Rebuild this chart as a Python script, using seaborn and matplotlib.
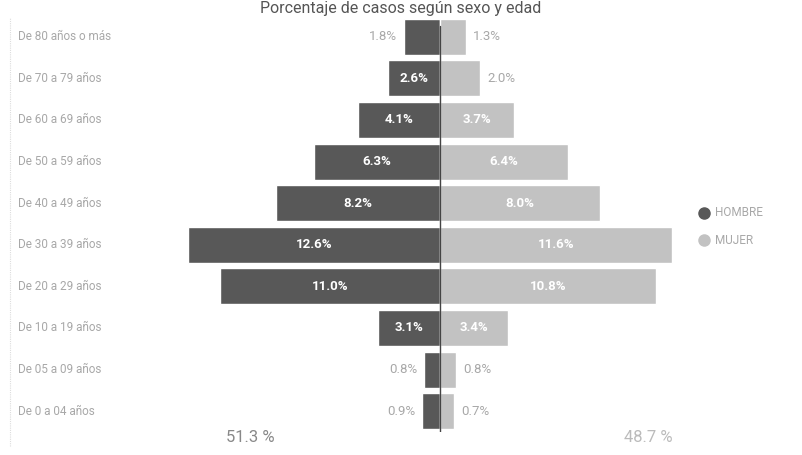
import matplotlib
matplotlib.use("Agg")
import matplotlib.pyplot as plt
import matplotlib.transforms as mtransforms
import seaborn as sns
import pandas as pd

categories = ["De 80 años o más", "De 70 a 79 años", "De 60 a 69 años", "De 50 a 59 años",
              "De 40 a 49 años", "De 30 a 39 años", "De 20 a 29 años", "De 10 a 19 años",
              "De 05 a 09 años", "De 0 a 04 años"]
hombre = [1.8, 2.6, 4.1, 6.3, 8.2, 12.6, 11.0, 3.1, 0.8, 0.9]
mujer = [1.3, 2.0, 3.7, 6.4, 8.0, 11.6, 10.8, 3.4, 0.8, 0.7]
series_names = ["HOMBRE", "MUJER"]
totals = ["51.3 %", "48.7 %"]
title = "Porcentaje de casos según sexo y edad"

c_h = "#585858"
c_m = "#c2c2c2"
c_txt = "#a8a8a8"

sns.set_theme(style="white")
plt.rcParams['font.family'] = ['Roboto', 'DejaVu Sans']

fig = plt.figure(figsize=(8.02, 4.55), dpi=100)
fig.patch.set_facecolor("white")
ax = fig.add_axes([180/802, (455-432)/455, 520/802, 416/455])

df_h = pd.DataFrame({"cat": categories, "val": [-v for v in hombre]})
df_m = pd.DataFrame({"cat": categories, "val": mujer})
sns.barplot(data=df_h, x="val", y="cat", orient="h", color=c_h, width=0.87,
            saturation=1, ax=ax, order=categories)
sns.barplot(data=df_m, x="val", y="cat", orient="h", color=c_m, width=0.87,
            saturation=1, ax=ax, order=categories)

ax.set_xlim(-13, 13)
ax.set_ylim(9.5, -0.5)
ax.set_xlabel("")
ax.set_ylabel("")
ax.set_xticks([])
ax.set_yticks([])
for s in ax.spines.values():
    s.set_visible(False)
ax.set_facecolor("none")

ax.axvline(0, ymin=0.0, ymax=0.975, color="#444444", lw=1.0)

thr = 2.5
for i, (h, m) in enumerate(zip(hombre, mujer)):
    if h >= thr:
        ax.text(-h/2, i, f"{h:.1f}%", ha="center", va="center", color="white",
                fontsize=9.5, fontweight="bold")
    else:
        ax.text(-h - 0.35, i, f"{h:.1f}%", ha="right", va="center", color=c_txt, fontsize=9.5)
    if m >= thr:
        ax.text(m/2, i, f"{m:.1f}%", ha="center", va="center", color="white",
                fontsize=9.5, fontweight="bold")
    else:
        ax.text(m + 0.35, i, f"{m:.1f}%", ha="left", va="center", color=c_txt, fontsize=9.5)

trans = mtransforms.blended_transform_factory(fig.transFigure, ax.transData)
for i, c in enumerate(categories):
    fig.text(18/802, i, c, transform=trans, ha="left", va="center", color=c_txt, fontsize=8.5)

# left border line
fig.add_artist(plt.Line2D([10/802, 10/802], [0.02, 0.96], color="#dddddd", lw=0.8,
                          linestyle=(0, (1, 1)), transform=fig.transFigure))

fig.text(0.5, 1 - 8/455, title, ha="center", va="center", fontsize=11.5, color="#555555")

fig.text(250/802, 1 - 437/455, totals[0], ha="center", va="center", fontsize=12, color="#888888")
fig.text(648/802, 1 - 437/455, totals[1], ha="center", va="center", fontsize=12, color="#bbbbbb")

# legend
fig.add_artist(plt.Line2D([704/802], [1 - 213/455], marker="o", markersize=8, color=c_h,
                          linestyle="none", transform=fig.transFigure))
fig.add_artist(plt.Line2D([704/802], [1 - 240/455], marker="o", markersize=8, color=c_m,
                          linestyle="none", transform=fig.transFigure))
fig.text(715/802, 1 - 213/455, series_names[0], ha="left", va="center", fontsize=8.5, color=c_txt)
fig.text(715/802, 1 - 240/455, series_names[1], ha="left", va="center", fontsize=8.5, color=c_txt)

fig.savefig("out.png", dpi=100, facecolor="white")
